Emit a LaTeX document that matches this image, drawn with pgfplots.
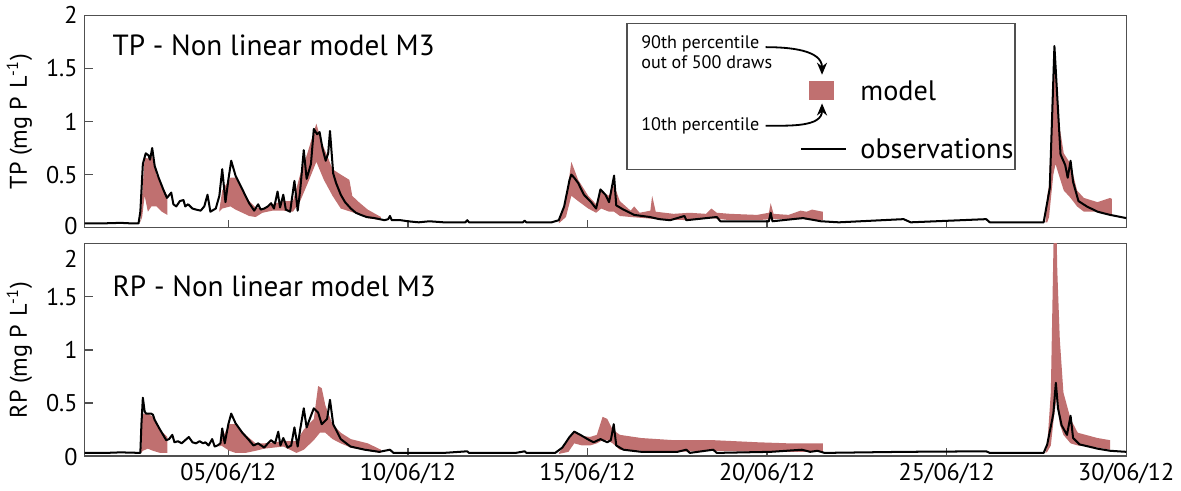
\documentclass[border=0pt]{standalone}
\usepackage{fontspec}
\setmainfont{PT Sans}
\usepackage{pgfplots}
\pgfplotsset{compat=1.18}
\usetikzlibrary{arrows.meta}

\definecolor{band}{RGB}{192,112,112}
\definecolor{frame}{RGB}{80,80,80}

\pgfplotsset{
  panel/.style={
    scale only axis, width=517.5pt, height=105.5pt,
    xmin=1, xmax=30, ymin=0, ymax=2,
    xtick={5,10,15,20,25,30},
    ytick={0,0.5,1,1.5,2},
    tick align=inside, xtick pos=bottom, ytick pos=left,
    major tick length=4pt,
    axis line style={frame, line width=0.6pt},
    every tick/.style={frame, line width=0.6pt},
    tick label style={font=\fontsize{12}{14}\selectfont},
    ylabel style={font=\fontsize{12}{14}\selectfont},
    /pgf/number format/assume math mode=true,
  },
  obs/.style={black, line width=1pt, line join=round, no marks},
  mod/.style={fill=band, draw=none},
}

\begin{document}
\begin{tikzpicture}
\begin{axis}[panel, name=top, xticklabels={},
  yticklabels={\raisebox{-1.5pt}[4.25pt][0pt]{0},0.5,1,1.5,2},
  ylabel={TP (mg P\,\,L\textsuperscript{-1})}]
% model band, 10th-90th percentile
\addplot[mod] coordinates {(2.55,0.05) (2.6,0.3) (2.67,0.66) (2.76,0.65) (2.86,0.7) (3.0,0.5) (3.15,0.4) (3.3,0.3)
  (3.3,0.12) (3.15,0.15) (3.0,0.2) (2.86,0.2) (2.76,0.15) (2.67,0.3) (2.6,0.1)} -- cycle;
\addplot[mod] coordinates {(4.75,0.17) (4.83,0.35) (5.06,0.47) (5.2,0.47) (5.39,0.35) (5.58,0.25) (5.76,0.19) (5.95,0.18) (6.23,0.22) (6.53,0.25) (6.8,0.25) (7.0,0.5) (7.2,0.7) (7.45,0.98) (7.6,0.8) (7.75,0.68) (7.9,0.55) (8.13,0.5) (8.37,0.45) (8.45,0.3) (8.6,0.25) (8.88,0.17) (9.25,0.1)
  (9.25,0.07) (8.88,0.09) (8.5,0.14) (8.13,0.18) (7.9,0.3) (7.66,0.45) (7.45,0.62) (7.25,0.45) (7.0,0.25) (6.8,0.15) (6.53,0.16) (6.23,0.16) (5.95,0.14) (5.76,0.1) (5.58,0.11) (5.39,0.14) (5.2,0.17) (5.06,0.2) (4.83,0.18) (4.75,0.15)} -- cycle;
\addplot[mod] coordinates {(14.2,0.06) (14.4,0.25) (14.55,0.62) (14.74,0.45) (15.02,0.3) (15.24,0.22) (15.38,0.34) (15.6,0.3) (15.74,0.4) (15.9,0.25) (16.2,0.16) (16.3,0.2) (16.45,0.14) (16.75,0.16) (16.8,0.3) (16.9,0.15) (17.4,0.13) (17.84,0.14) (18.3,0.13) (18.45,0.18) (18.6,0.14) (18.97,0.13) (19.72,0.12) (20.05,0.14) (20.1,0.23) (20.18,0.13) (20.6,0.12) (20.93,0.16) (21.1,0.15) (21.25,0.17) (21.55,0.15)
  (21.55,0.07) (21.0,0.08) (20.1,0.08) (19.72,0.07) (18.97,0.07) (18.45,0.09) (17.84,0.07) (16.9,0.08) (16.57,0.09) (16.2,0.1) (15.9,0.11) (15.74,0.15) (15.6,0.15) (15.38,0.18) (15.24,0.14) (15.02,0.18) (14.74,0.25) (14.55,0.3) (14.4,0.1) (14.2,0.04)} -- cycle;
\addplot[mod] coordinates {(27.75,0.05) (27.8,0.3) (27.85,0.4) (27.97,1.4) (28.03,1.6) (28.12,1.0) (28.26,0.7) (28.45,0.6) (28.63,0.35) (28.82,0.28) (29.2,0.24) (29.55,0.28) (29.6,0.27)
  (29.6,0.12) (29.2,0.15) (28.82,0.15) (28.63,0.2) (28.45,0.28) (28.26,0.35) (28.12,0.5) (28.03,0.6) (27.97,0.5) (27.85,0.1) (27.8,0.05)} -- cycle;
% observations
\addplot[obs] coordinates {(1,0.04) (1.5,0.04) (2.0,0.045) (2.3,0.04) (2.5,0.04) (2.55,0.15) (2.62,0.6) (2.7,0.7) (2.78,0.68) (2.82,0.64) (2.88,0.75) (2.95,0.58) (3.06,0.47) (3.2,0.35) (3.29,0.28) (3.41,0.33) (3.47,0.22) (3.55,0.2) (3.65,0.25) (3.75,0.26) (3.8,0.2) (3.88,0.22) (4.0,0.18) (4.1,0.17) (4.23,0.16) (4.33,0.2) (4.42,0.31) (4.5,0.15) (4.65,0.18) (4.75,0.3) (4.83,0.55) (4.92,0.24) (5.0,0.45) (5.08,0.63) (5.2,0.49) (5.39,0.36) (5.58,0.23) (5.72,0.16) (5.83,0.22) (5.9,0.17) (6.0,0.18) (6.1,0.2) (6.19,0.23) (6.27,0.18) (6.37,0.34) (6.44,0.19) (6.53,0.31) (6.6,0.17) (6.72,0.15) (6.84,0.44) (6.93,0.16) (7.0,0.35) (7.1,0.73) (7.18,0.46) (7.3,0.6) (7.38,0.93) (7.47,0.88) (7.54,0.9) (7.62,0.75) (7.71,0.63) (7.78,0.7) (7.83,0.91) (7.92,0.51) (8.0,0.42) (8.13,0.31) (8.25,0.24) (8.41,0.18) (8.55,0.14) (8.69,0.12) (8.85,0.1) (9.07,0.09) (9.35,0.07) (9.45,0.08) (9.5,0.11) (9.55,0.07) (9.8,0.07) (10.0,0.06) (10.3,0.05) (10.6,0.06) (11,0.05) (11.6,0.05) (11.65,0.07) (11.7,0.05) (12.5,0.05) (13.2,0.05) (13.25,0.065) (13.3,0.05)
  (14.0,0.05) (14.2,0.07) (14.35,0.2) (14.5,0.45) (14.55,0.5) (14.63,0.47) (14.74,0.42) (14.9,0.31) (15.1,0.24) (15.24,0.18) (15.36,0.36) (15.5,0.31) (15.6,0.24) (15.74,0.49) (15.8,0.21) (16.0,0.17) (16.3,0.12) (16.74,0.1) (17.0,0.08) (17.3,0.07) (17.7,0.11) (17.75,0.07) (18.6,0.1) (18.7,0.06) (20.05,0.06) (20.1,0.14) (20.15,0.06) (21.0,0.09) (21.5,0.06) (22,0.05) (23.8,0.08) (24,0.05) (26.1,0.08) (26.2,0.05) (27.7,0.05) (27.87,0.37) (28.0,1.71) (28.08,1.23) (28.17,0.69) (28.3,0.59) (28.37,0.47) (28.45,0.63) (28.52,0.43) (28.67,0.25) (28.9,0.2) (29.2,0.15) (29.55,0.12) (30,0.09)};
\node[anchor=west, font=\fontsize{14.5}{17}\selectfont] at (rel axis cs:0.02,0.86) {TP - Non linear model M3};
% legend
\draw[frame, line width=0.6pt, fill=white] (axis cs:16.1,0.55) rectangle (axis cs:26.9,1.924);
\node[anchor=west, align=left, font=\fontsize{9}{10}\selectfont] at (axis cs:16.3,1.65) {90th percentile\\out of 500 draws};
\node[anchor=west, font=\fontsize{9}{10}\selectfont] at (axis cs:16.3,0.96) {10th percentile};
\draw[-{Stealth[length=6pt,width=5pt]}, line width=0.9pt] (axis cs:19.96,1.70) to[out=0,in=90] (axis cs:21.53,1.44);
\draw[-{Stealth[length=6pt,width=5pt]}, line width=0.9pt] (axis cs:19.96,0.96) to[out=0,in=-90] (axis cs:21.53,1.17);
\fill[band] (axis cs:21.17,1.20) rectangle (axis cs:21.87,1.38);
\node[anchor=west, font=\fontsize{14}{16}\selectfont] at (axis cs:22.4,1.29) {model};
\draw[black, line width=1pt] (axis cs:20.94,0.74) -- (axis cs:22.2,0.74);
\node[anchor=west, font=\fontsize{14}{16}\selectfont] at (axis cs:22.4,0.74) {observations};
\end{axis}

\begin{axis}[panel, at={(top.south west)}, anchor=north west, yshift=-8pt,
  xticklabels={05/06/12,10/06/12,15/06/12,20/06/12,25/06/12,30/06/12},
  yticklabels={\raisebox{-2.75pt}[4.25pt][0pt]{0},0.5,1,1.5,\raisebox{-9.75pt}[4.25pt][0pt]{2}},
  ylabel={RP (mg P\,\,L\textsuperscript{-1})}]
\addplot[mod] coordinates {(2.57,0.03) (2.6,0.35) (2.62,0.4) (2.76,0.4) (2.9,0.37) (3.1,0.25) (3.3,0.18)
  (3.3,0.03) (3.1,0.03) (2.9,0.05) (2.76,0.07) (2.62,0.05) (2.57,0.03)} -- cycle;
\addplot[mod] coordinates {(4.75,0.1) (4.8,0.15) (5.03,0.3) (5.2,0.3) (5.48,0.2) (5.76,0.12) (6.0,0.12) (6.53,0.14) (6.9,0.14) (7.1,0.25) (7.38,0.35) (7.5,0.66) (7.6,0.64) (7.7,0.48) (7.9,0.3) (8.13,0.22) (8.41,0.16) (8.88,0.12) (9.25,0.06)
  (9.25,0.03) (8.88,0.05) (8.41,0.08) (8.13,0.12) (7.9,0.16) (7.7,0.22) (7.55,0.22) (7.38,0.15) (7.1,0.06) (6.9,0.03) (6.53,0.09) (6.0,0.07) (5.76,0.05) (5.48,0.03) (5.2,0.03) (5.03,0.05) (4.8,0.1) (4.75,0.09)} -- cycle;
\addplot[mod] coordinates {(14.2,0.03) (14.47,0.15) (14.63,0.24) (14.85,0.19) (15.07,0.18) (15.26,0.2) (15.42,0.37) (15.55,0.35) (15.7,0.25) (15.9,0.2) (16.5,0.17) (17.4,0.15) (18.5,0.15) (19.75,0.13) (20.6,0.12) (21.55,0.12)
  (21.55,0.04) (20.6,0.04) (19.75,0.04) (18.5,0.05) (17.4,0.04) (16.5,0.05) (15.9,0.06) (15.7,0.12) (15.55,0.15) (15.42,0.15) (15.26,0.12) (15.07,0.1) (14.85,0.1) (14.63,0.12) (14.47,0.04) (14.2,0.02)} -- cycle;
\addplot[mod] coordinates {(27.75,0.03) (27.8,0.1) (27.9,0.6) (27.98,2.1) (28.06,2.1) (28.08,1.75) (28.15,1.1) (28.25,0.6) (28.45,0.35) (28.65,0.22) (29.2,0.17) (29.55,0.15)
  (29.55,0.06) (29.2,0.08) (28.65,0.1) (28.45,0.12) (28.25,0.2) (28.15,0.3) (28.06,0.55) (27.98,0.35) (27.9,0.1) (27.8,0.04)} -- cycle;
\addplot[obs] coordinates {(1,0.03) (1.6,0.03) (2,0.035) (2.55,0.03) (2.58,0.3) (2.62,0.55) (2.67,0.42) (2.71,0.4) (2.85,0.4) (2.9,0.39) (2.95,0.34) (3.08,0.26) (3.27,0.15) (3.35,0.16) (3.44,0.2) (3.5,0.13) (3.6,0.14) (3.7,0.12) (3.8,0.15) (3.9,0.18) (4.0,0.13) (4.1,0.12) (4.2,0.14) (4.3,0.12) (4.36,0.13) (4.45,0.1) (4.55,0.16) (4.62,0.09) (4.7,0.1) (4.78,0.12) (4.83,0.26) (4.9,0.12) (5.0,0.3) (5.08,0.4) (5.2,0.31) (5.39,0.22) (5.55,0.16) (5.7,0.1) (5.83,0.12) (6.0,0.08) (6.1,0.12) (6.19,0.15) (6.3,0.12) (6.39,0.23) (6.45,0.1) (6.53,0.17) (6.65,0.08) (6.75,0.1) (6.84,0.27) (6.93,0.09) (7.0,0.25) (7.1,0.45) (7.18,0.27) (7.3,0.38) (7.38,0.45) (7.5,0.41) (7.6,0.3) (7.75,0.35) (7.83,0.53) (7.92,0.3) (8.13,0.16) (8.4,0.09) (8.8,0.06) (9.2,0.04) (9.5,0.06) (9.6,0.03) (10,0.03) (11,0.03) (11.65,0.045) (11.7,0.03) (13,0.03) (13.25,0.045) (13.3,0.03)
  (14.1,0.03) (14.3,0.08) (14.5,0.18) (14.63,0.23) (14.8,0.2) (15.0,0.16) (15.17,0.13) (15.36,0.16) (15.55,0.13) (15.65,0.15) (15.73,0.3) (15.8,0.1) (16.0,0.06) (16.5,0.04) (17.5,0.04) (17.75,0.06) (17.85,0.03) (18.5,0.06) (18.6,0.03) (20.1,0.04) (20.97,0.06) (21.2,0.04) (21.4,0.05) (21.6,0.03) (23.8,0.04) (26.1,0.045) (26.2,0.03)
  (27.7,0.03) (27.8,0.11) (27.97,0.4) (28.04,0.69) (28.1,0.45) (28.2,0.29) (28.35,0.2) (28.45,0.38) (28.52,0.17) (28.7,0.11) (29.2,0.07) (29.55,0.05) (30,0.04)};
\node[anchor=west, font=\fontsize{14.5}{17}\selectfont] at (rel axis cs:0.02,0.80) {RP - Non linear model M3};
\end{axis}
\end{tikzpicture}
\end{document}
